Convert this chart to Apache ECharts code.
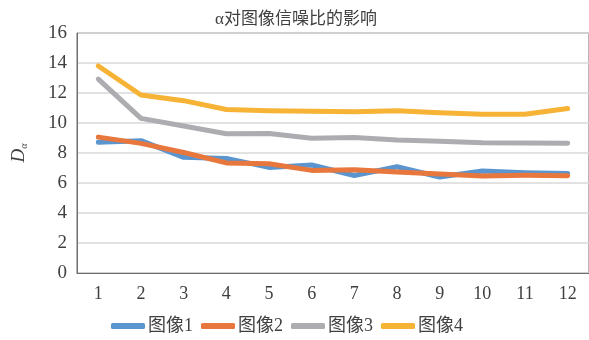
<!DOCTYPE html>
<html>
<head>
<meta charset="utf-8">
<script src="https://cdn.jsdelivr.net/npm/echarts@6/dist/echarts.min.js"></script>
<style>
html,body{margin:0;padding:0;background:#fff;}
#chart{width:589px;height:340px;}
</style>
</head>
<body>
<div id="chart"></div>
<script>
var categories = ['1','2','3','4','5','6','7','8','9','10','11','12'];
var seriesNames = ['图像1','图像2','图像3','图像4'];
var image1 = [8.71, 8.82, 7.71, 7.64, 7.04, 7.2, 6.5, 7.08, 6.4, 6.8, 6.69, 6.64];
var image2 = [9.06, 8.64, 8.03, 7.34, 7.28, 6.84, 6.88, 6.73, 6.6, 6.47, 6.51, 6.49];
var image3 = [12.93, 10.31, 9.8, 9.28, 9.3, 8.98, 9.03, 8.87, 8.78, 8.69, 8.67, 8.65];
var image4 = [13.8, 11.87, 11.49, 10.9, 10.82, 10.78, 10.75, 10.82, 10.69, 10.58, 10.58, 10.96];
var yTicks = [0, 2, 4, 6, 8, 10, 12, 14, 16];
var colors = ['#5B95CF', '#E8773D', '#ADADB1', '#F6B336'];

var serif = '"Liberation Serif", "Noto Sans CJK SC", serif';
var chart = echarts.init(document.getElementById('chart'), null, {renderer: 'canvas'});
var dataSets = [image1, image2, image3, image4];
chart.setOption({
  animation: false,
  backgroundColor: '#fff',
  color: colors,
  title: {
    text: 'α对图像信噪比的影响',
    left: 291, top: 6, textAlign: 'center',
    textStyle: {fontFamily: serif, fontSize: 17, fontWeight: 'normal', color: '#404040'}
  },
  grid: {left: 77, right: 0, top: 33, bottom: 67, show: true, borderColor: '#6e6e6e', borderWidth: 1},
  legend: {
    data: seriesNames,
    bottom: 0, left: 106,
    icon: 'roundRect', itemWidth: 34, itemHeight: 6, itemGap: 8,
    textStyle: {fontFamily: serif, fontSize: 18, color: '#404040', padding: [0, 0, 0, -2]}
  },
  xAxis: {
    type: 'category', data: categories, boundaryGap: true,
    axisLine: {show: true, lineStyle: {color: '#6e6e6e', width: 1}},
    axisTick: {show: false},
    axisLabel: {fontFamily: serif, fontSize: 18, color: '#404040', margin: 12}
  },
  yAxis: {
    type: 'value', min: 0, max: 16, interval: 2,
    name: '{d|D}{s|α}', nameLocation: 'middle', nameGap: 48, nameRotate: 90,
    nameTextStyle: {
      rich: {
        d: {fontFamily: serif, fontStyle: 'italic', fontSize: 19, color: '#404040'},
        s: {fontFamily: serif, fontStyle: 'italic', fontSize: 10, color: '#404040', padding: [10, 0, 0, 0]}
      }
    },
    axisLine: {show: true, lineStyle: {color: '#6e6e6e', width: 1}},
    axisTick: {show: false},
    splitLine: {show: true, lineStyle: {color: '#D9D9D9', width: 1.5}},
    axisLabel: {fontFamily: serif, fontSize: 19, color: '#404040', margin: 10,
      formatter: function (v) { return yTicks.indexOf(v) >= 0 ? String(v) : ''; }}
  },
  series: seriesNames.map(function (n, i) {
    return {
      name: n, type: 'line', data: dataSets[i],
      symbol: 'none', smooth: false,
      lineStyle: {width: 5, color: colors[i], cap: 'round', join: 'round'},
      itemStyle: {color: colors[i]}
    };
  })
});
</script>
</body>
</html>
